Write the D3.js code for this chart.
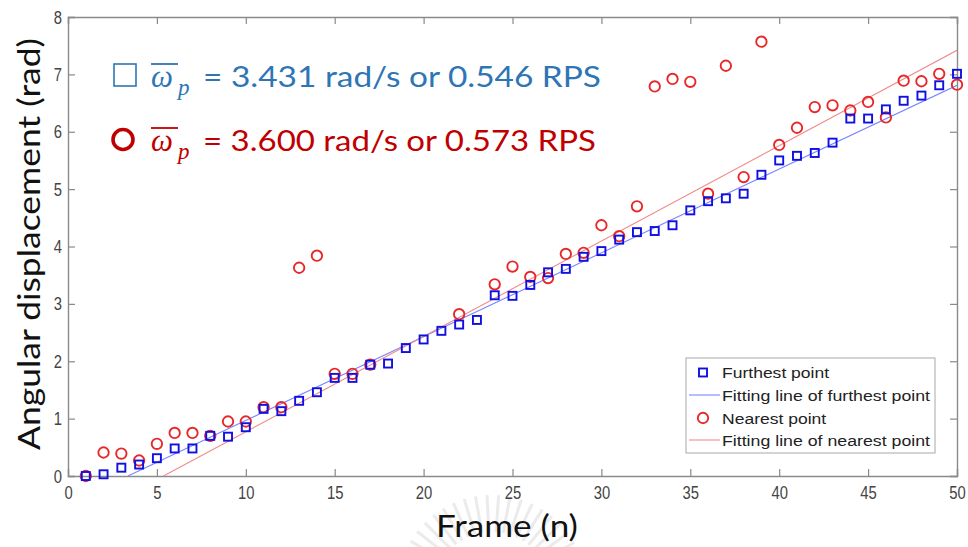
<!DOCTYPE html>
<html>
<head>
<meta charset="utf-8">
<script src="https://cdn.jsdelivr.net/npm/d3@7"></script>
<style>
  html, body { margin: 0; padding: 0; background: #fff; }
  svg { display: block; }
</style>
</head>
<body>
<svg id="chart" width="968" height="547"></svg>
<script>
// Frame numbers and measured angular displacement (rad)
const frames = d3.range(1, 51);
const furthest = [0, 0.03, 0.145, 0.2, 0.31, 0.48, 0.48, 0.70, 0.685, 0.85,
  1.17, 1.13, 1.31, 1.46, 1.71, 1.71, 1.94, 1.96, 2.23, 2.38,
  2.53, 2.64, 2.72, 3.15, 3.14, 3.33, 3.55, 3.61, 3.82, 3.92,
  4.12, 4.25, 4.27, 4.37, 4.63, 4.79, 4.84, 4.92, 5.25, 5.50,
  5.58, 5.63, 5.81, 6.23, 6.23, 6.39, 6.54, 6.63, 6.81, 7.01];
const nearest = [0, 0.41, 0.39, 0.27, 0.56, 0.75, 0.75, 0.70, 0.95, 0.95,
  1.20, 1.20, 3.63, 3.84, 1.78, 1.78, 1.94, null, null, null,
  null, 2.82, null, 3.34, 3.65, 3.47, 3.45, 3.87, 3.89, 4.37,
  4.18, 4.70, 6.79, 6.92, 6.87, 4.92, 7.15, 5.21, 7.57, 5.77,
  6.07, 6.43, 6.46, 6.37, 6.52, 6.25, 6.89, 6.88, 7.01, 6.82];

// Linear fits (end points in frame / rad)
const fitFurthest = [[3.37, 0], [50, 6.81]];
const fitNearest = [[5.37, 0], [50, 7.42]];

const xTicks = [0, 5, 10, 15, 20, 25, 30, 35, 40, 45, 50];
const yTicks = [0, 1, 2, 3, 4, 5, 6, 7, 8];

const legendLabels = ["Furthest point", "Fitting line of furthest point",
  "Nearest point", "Fitting line of nearest point"];
const annotations = [
  { value: "= 3.431 rad/s or 0.546 RPS", color: "#2e75b6" },
  { value: "= 3.600 rad/s or 0.573 RPS", color: "#c00000" }
];

const BLUE = "#1010e0", RED = "#e82828";
const BLUE_FIT = "#7a86ff", RED_FIT = "#f28a8a";
const AXIS = "#8a8a8a";

const svg = d3.select("#chart");
const pLeft = 68, pRight = 957, pTop = 17, pBottom = 476;
const x = d3.scaleLinear().domain([0, 50]).range([pLeft, pRight]);
const y = d3.scaleLinear().domain([0, 8]).range([pBottom, pTop]);

// faint emblem behind the x-axis title
const emblem = svg.append("g").attr("opacity", 0.35);
d3.range(-170, -9, 7).forEach(a => {
  const r = a * Math.PI / 180, cx = 492, cy = 590;
  emblem.append("line")
    .attr("x1", cx + 58 * Math.cos(r)).attr("y1", cy + 58 * Math.sin(r))
    .attr("x2", cx + 95 * Math.cos(r)).attr("y2", cy + 95 * Math.sin(r))
    .attr("stroke", "#c8c8c8").attr("stroke-width", 3);
});

svg.append("defs").append("clipPath").attr("id", "plot")
  .append("rect").attr("x", pLeft).attr("y", pTop)
  .attr("width", pRight - pLeft).attr("height", pBottom - pTop);

// axes with inward ticks, plus the box
const gx = svg.append("g").attr("transform", `translate(0,${pBottom})`)
  .call(d3.axisBottom(x).tickValues(xTicks).tickSize(-7).tickPadding(10));
const gy = svg.append("g").attr("transform", `translate(${pLeft},0)`)
  .call(d3.axisLeft(y).tickValues(yTicks).tickSize(-7).tickPadding(6));
svg.append("g").attr("transform", `translate(0,${pTop})`)
  .call(d3.axisTop(x).tickValues(xTicks).tickSize(-7).tickFormat(""));
svg.append("g").attr("transform", `translate(${pRight},0)`)
  .call(d3.axisRight(y).tickValues(yTicks).tickSize(-7).tickFormat(""));
svg.selectAll(".domain").attr("stroke", AXIS).attr("stroke-width", 1.4);
svg.selectAll(".tick line").attr("stroke", AXIS).attr("stroke-width", 1.2);
svg.selectAll(".tick text")
  .attr("fill", "#444").attr("font-family", "Liberation Sans, Arial, sans-serif")
  .attr("font-size", 19);
// narrow the tick digits
gx.selectAll(".tick text").each(function () {
  const t = d3.select(this);
  const yy = +t.attr("y");
  t.attr("transform", `translate(0,${yy}) scale(0.78,1) translate(0,${-yy})`);
});
gy.selectAll(".tick text").each(function () {
  const t = d3.select(this);
  const xx = +t.attr("x");
  t.attr("transform", `translate(${xx},0) scale(0.78,1) translate(${-xx},0)`);
});

// fitted lines
const line = d3.line().x(d => x(d[0])).y(d => y(d[1]));
const fits = svg.append("g").attr("clip-path", "url(#plot)");
fits.append("path").datum(fitFurthest).attr("d", line)
  .attr("fill", "none").attr("stroke", BLUE_FIT).attr("stroke-width", 1.1);
fits.append("path").datum(fitNearest).attr("d", line)
  .attr("fill", "none").attr("stroke", RED_FIT).attr("stroke-width", 1.1);

// nearest point markers
svg.append("g").selectAll("circle")
  .data(frames.map((f, i) => [f, nearest[i]]).filter(d => d[1] !== null))
  .join("circle")
  .attr("cx", d => x(d[0])).attr("cy", d => y(d[1])).attr("r", 5.2)
  .attr("fill", "none").attr("stroke", RED).attr("stroke-width", 1.9);

// furthest point markers
const s = 8;
svg.append("g").selectAll("rect")
  .data(frames.map((f, i) => [f, furthest[i]]))
  .join("rect")
  .attr("x", d => x(d[0]) - s / 2).attr("y", d => y(d[1]) - s / 2)
  .attr("width", s).attr("height", s)
  .attr("fill", "none").attr("stroke", BLUE).attr("stroke-width", 1.9);

// legend
const lg = svg.append("g");
lg.append("rect").attr("x", 686).attr("y", 358).attr("width", 249).attr("height", 95)
  .attr("fill", "#fff").attr("stroke", "#a8a8a8").attr("stroke-width", 1);
const rowY = [372.5, 395, 418, 440];
legendLabels.forEach((label, i) => {
  const cy = rowY[i];
  if (i === 0) {
    lg.append("rect").attr("x", 703 - 4).attr("y", cy - 4).attr("width", 8).attr("height", 8)
      .attr("fill", "none").attr("stroke", BLUE).attr("stroke-width", 1.9);
  } else if (i === 2) {
    lg.append("circle").attr("cx", 703).attr("cy", cy).attr("r", 5.2)
      .attr("fill", "none").attr("stroke", RED).attr("stroke-width", 1.9);
  } else {
    lg.append("line").attr("x1", 689).attr("x2", 720).attr("y1", cy).attr("y2", cy)
      .attr("stroke", i === 1 ? BLUE_FIT : RED_FIT).attr("stroke-width", 1.1);
  }
  const t = lg.append("text").attr("x", 722).attr("y", cy + 5.5)
    .attr("font-family", "Liberation Sans, Arial, sans-serif").attr("font-size", 15.5)
    .attr("fill", "#222").text(label);
  // long labels span the legend; short ones get the same horizontal stretch
  if (label.length > 20) {
    t.attr("textLength", 208).attr("lengthAdjust", "spacingAndGlyphs");
  } else {
    t.attr("textLength", t.node().getComputedTextLength() * 1.13)
      .attr("lengthAdjust", "spacingAndGlyphs");
  }
});

// angular velocity annotations
const ann = svg.append("g");
const baseY = [87, 151];
annotations.forEach((a, i) => {
  const by = baseY[i];
  if (i === 0) {
    ann.append("rect").attr("x", 114).attr("y", by - 23).attr("width", 22).attr("height", 22)
      .attr("fill", "none").attr("stroke", a.color).attr("stroke-width", 1.6);
  } else {
    ann.append("circle").attr("cx", 123).attr("cy", by - 11.5).attr("r", 10)
      .attr("fill", "none").attr("stroke", a.color).attr("stroke-width", 3.6);
  }
  ann.append("text").attr("x", 151).attr("y", by)
    .attr("font-family", "Liberation Serif, DejaVu Serif, serif")
    .attr("font-style", "italic").attr("font-size", 31).attr("fill", a.color)
    .text("ω");
  ann.append("line").attr("x1", 151).attr("x2", 178)
    .attr("y1", by - 23).attr("y2", by - 23)
    .attr("stroke", a.color).attr("stroke-width", 1.8);
  ann.append("text").attr("x", 178).attr("y", by + 8)
    .attr("font-family", "Liberation Serif, DejaVu Serif, serif")
    .attr("font-style", "italic").attr("font-size", 23).attr("fill", a.color)
    .text("p");
  ann.append("text").attr("x", 203).attr("y", by)
    .attr("font-family", "Lato, Open Sans, sans-serif").attr("font-size", 29)
    .attr("fill", a.color).text(a.value)
    .attr("textLength", i === 0 ? 398 : 393).attr("lengthAdjust", "spacingAndGlyphs");
});

// axis titles
svg.append("text").attr("transform", "translate(40,244) rotate(-90)")
  .attr("text-anchor", "middle")
  .attr("font-family", "Lato, Open Sans, sans-serif").attr("font-size", 30)
  .attr("fill", "#111").text("Angular displacement (rad)")
  .attr("textLength", 412).attr("lengthAdjust", "spacingAndGlyphs");
svg.append("text").attr("x", 507).attr("y", 537)
  .attr("text-anchor", "middle")
  .attr("font-family", "Lato, Open Sans, sans-serif").attr("font-size", 30)
  .attr("fill", "#111").text("Frame (n)")
  .attr("textLength", 142).attr("lengthAdjust", "spacingAndGlyphs");
</script>
</body>
</html>
